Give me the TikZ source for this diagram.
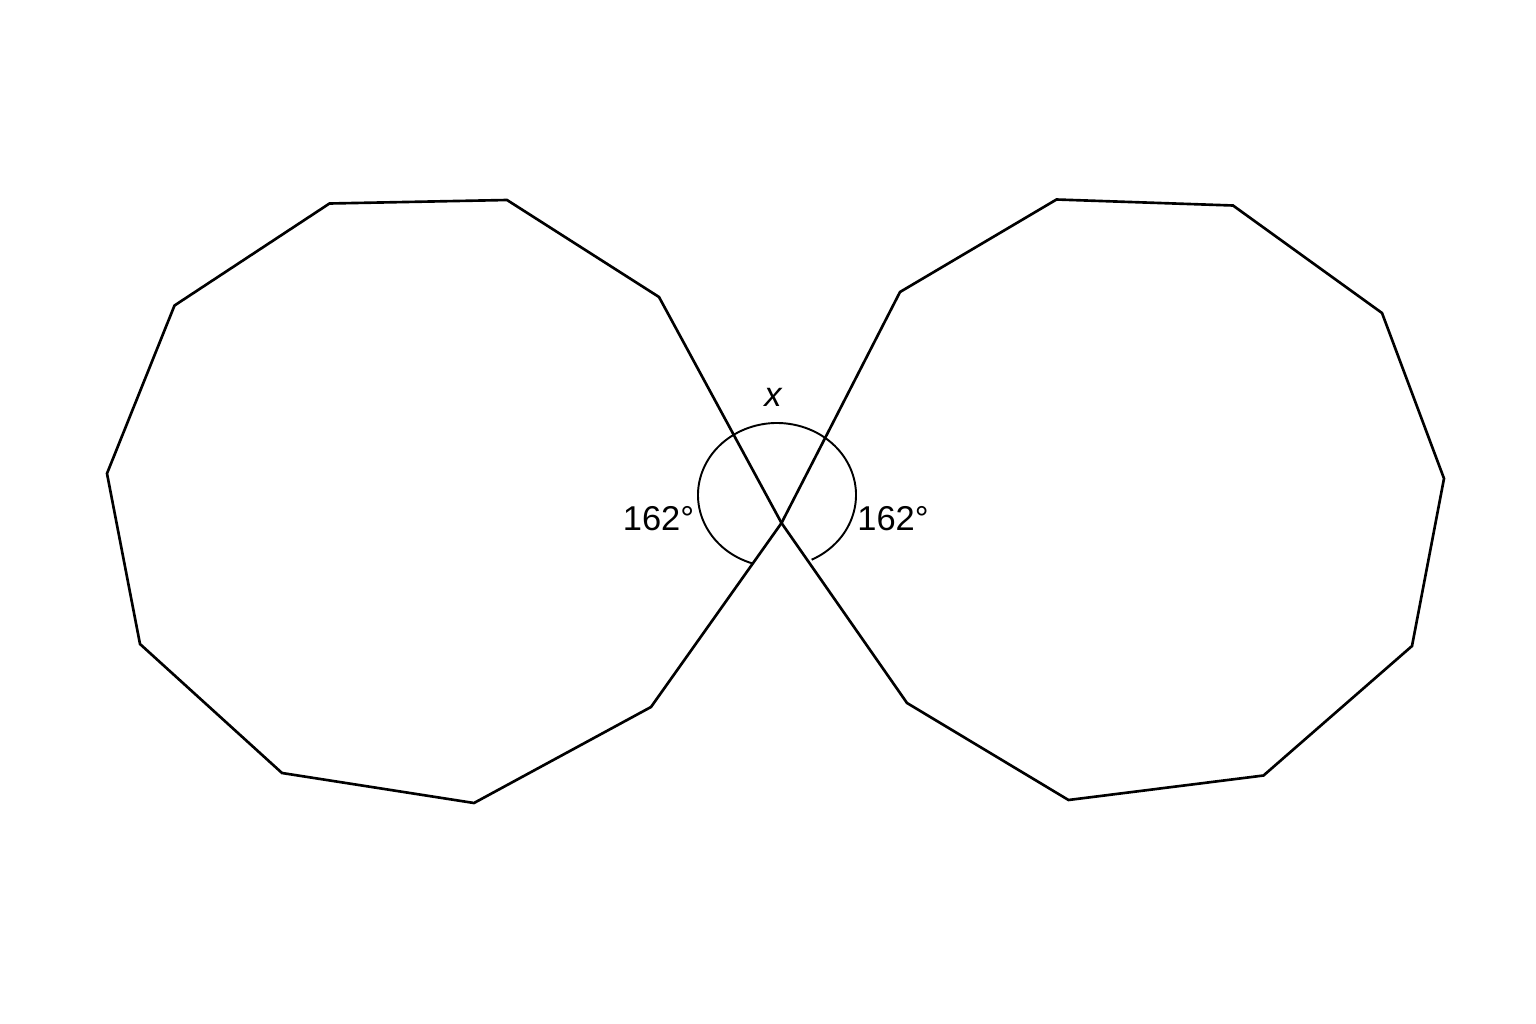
\documentclass[tikz,border=0pt]{standalone}
\usepackage{fontspec}
\setmainfont{Liberation Sans}
\begin{document}
\begin{tikzpicture}[x=0.01cm,y=-0.01cm,
  edge/.style={line width=0.75pt, line join=miter},
  anglemark/.style={line width=0.55pt},
  lbl/.style={font=\fontsize{9.8}{11}\selectfont, inner sep=0pt}]
\useasboundingbox (0,0) rectangle (1536,1024);
% crossing vertex shared by both polygons
\coordinate (C) at (781.5,523);
% left polygon
\coordinate (L1) at (659,297);
\coordinate (L2) at (507,200);
\coordinate (L3) at (329.5,203.5);
\coordinate (L4) at (174.5,305.5);
\coordinate (L5) at (107,473.5);
\coordinate (L6) at (140,644);
\coordinate (L7) at (282,773);
\coordinate (L8) at (474,803);
\coordinate (L9) at (651,707);
% right polygon
\coordinate (R1) at (900,292);
\coordinate (R2) at (1056.5,199.5);
\coordinate (R3) at (1233,205.5);
\coordinate (R4) at (1382,313);
\coordinate (R5) at (1444,478.5);
\coordinate (R6) at (1412,646);
\coordinate (R7) at (1263.5,775.5);
\coordinate (R8) at (1068.5,800);
\coordinate (R9) at (907,703);
\draw[edge] (C) -- (L1) -- (L2) -- (L3) -- (L4) -- (L5) -- (L6) -- (L7) -- (L8) -- (L9) -- cycle;
\draw[edge] (C) -- (R1) -- (R2) -- (R3) -- (R4) -- (R5) -- (R6) -- (R7) -- (R8) -- (R9) -- cycle;
% angle mark
\coordinate (M) at (777,495);
\draw[anglemark] (M) ++(108:79 and 72) arc[start angle=108, end angle=424, x radius=79, y radius=72];
% labels
\node[lbl] (x) at (773,397) {\itshape x};
\node[lbl] (a1) at (658.5,519) {162°};
\node[lbl] (a2) at (893,519) {162°};
\end{tikzpicture}
\end{document}
